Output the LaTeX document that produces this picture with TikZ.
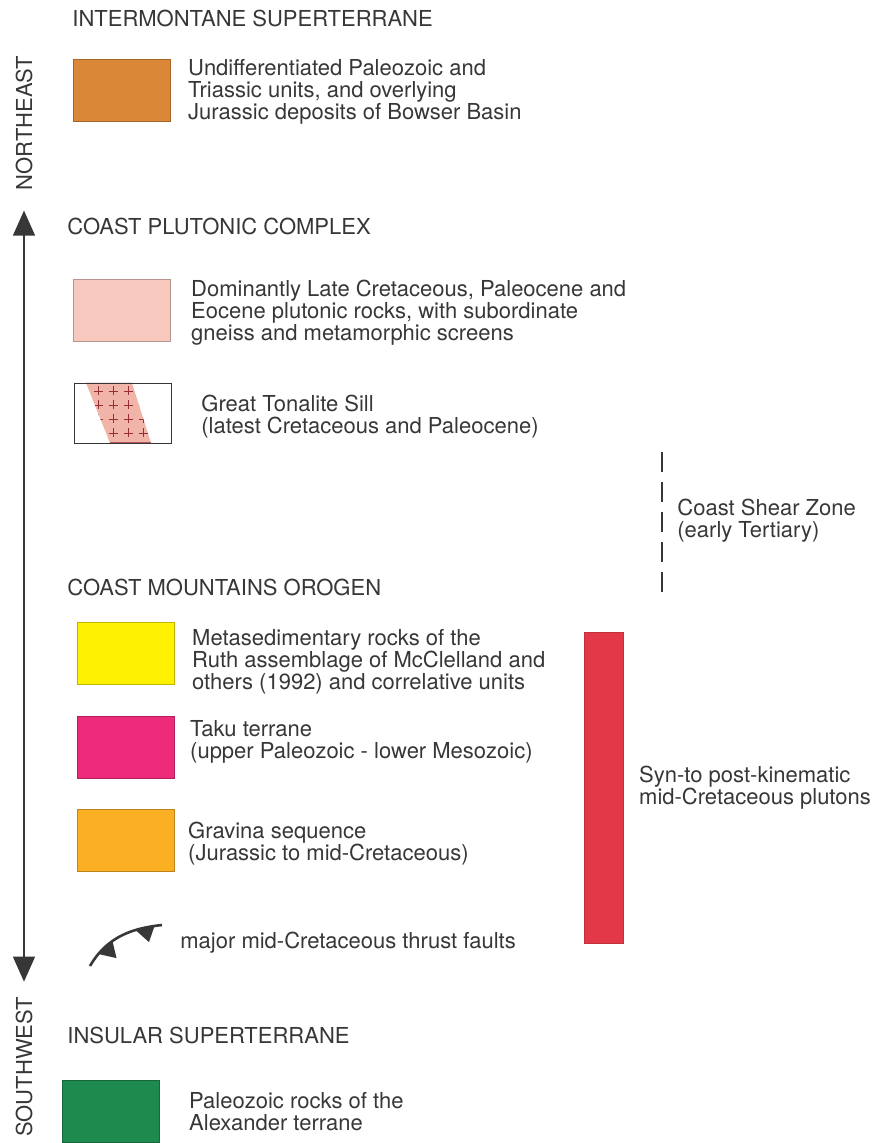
\documentclass[tikz,border=0pt]{standalone}
\usepackage{fontspec}
\setmainfont{TeX Gyre Heros}
\usepackage{xcolor}
\usetikzlibrary{arrows.meta, positioning, decorations.markings}

\definecolor{ink}{RGB}{55,55,55}
\definecolor{bowser}{RGB}{218,135,55}
\definecolor{plutonic}{RGB}{246,200,190}
\definecolor{sillpink}{RGB}{240,180,168}
\definecolor{sillcross}{RGB}{150,45,55}
\definecolor{ruth}{RGB}{255,242,0}
\definecolor{taku}{RGB}{238,42,123}
\definecolor{gravina}{RGB}{251,176,36}
\definecolor{plutons}{RGB}{226,56,72}
\definecolor{alexander}{RGB}{30,138,78}

\begin{document}
\begin{tikzpicture}[x=0.5pt, y=-0.5pt,
    every node/.style={font=\fontsize{11}{11}\selectfont, text=ink},
    title/.style={anchor=base west, inner sep=0},
    legtext/.style={align=left, inner sep=0},
    unitbox/.style={draw=#1!75!black, fill=#1, line width=0.4pt,
        minimum width=48.5pt, minimum height=31pt, anchor=north west, inner sep=0},
    dirlabel/.style={rotate=90, inner sep=0},
    dirarrow/.style={draw=ink, line width=0.7pt,
        {Triangle[length=12.5pt, width=11pt]}-{Triangle[length=12.5pt, width=11pt]}},
    thrust/.style={draw=ink, line width=1.3pt, postaction={decorate},
        decoration={markings,
            mark=at position 0.28 with {\fill[ink] (-5pt,0) -- (5pt,0) -- (0.5pt,-8pt) -- cycle;},
            mark=at position 0.8 with {\fill[ink] (-5pt,0) -- (5pt,0) -- (0.5pt,-7.5pt) -- cycle;}}}]

    \useasboundingbox (0,0) rectangle (880,1143);

    % direction arrow
    \node[dirlabel] (northeast) at (24,123) {NORTHEAST};
    \node[dirlabel] (southwest) at (24,1067) {SOUTHWEST};
    \draw[dirarrow] ([yshift=-10pt]northeast.west) -- ([yshift=7.5pt]southwest.east);

    % Intermontane superterrane
    \node[title] (intermontane) at (72,27) {INTERMONTANE SUPERTERRANE};
    \node[unitbox=bowser] (bowser) at (73,59) {};
    \node[legtext, right=8.5pt of bowser, yshift=-0.75pt] (bowsertext) {Undifferentiated Paleozoic and\\
        Triassic units, and overlying\\
        Jurassic deposits of Bowser Basin};

    % Coast plutonic complex
    \node[title] (plutoniccx) at (67,235) {COAST PLUTONIC COMPLEX};
    \node[unitbox=plutonic] (plutonic) at (73,279) {};
    \node[legtext, right=10pt of plutonic, yshift=-1pt] (plutonictext) {Dominantly Late Cretaceous, Paleocene and\\
        Eocene plutonic rocks, with subordinate\\
        gneiss and metamorphic screens};

    \begin{scope}
        \clip (86,383) -- (132,383) -- (151,443) -- (110,443) -- cycle;
        \fill[sillpink] (70,380) rectangle (175,446);
        \foreach \px in {98,113,...,155}
            \foreach \py in {391,405,...,440}
                \draw[sillcross, line width=0.45pt] (\px-4.5,\py) -- (\px+4.5,\py) (\px,\py-4.5) -- (\px,\py+4.5);
        \draw[sillcross!70!sillpink, line width=1pt] (86,383) -- (132,383) (110,443) -- (151,443);
    \end{scope}
    \node[draw=ink, line width=0.5pt, minimum width=48.5pt, minimum height=30pt,
        anchor=north west, inner sep=0] (sill) at (74,383) {};
    \node[legtext, right=14.5pt of sill, yshift=-1.5pt] (silltext) {Great Tonalite Sill\\
        (latest Cretaceous and Paleocene)};

    % Coast shear zone
    \coordinate (sheartop) at (662,452);
    \coordinate (shearbot) at (662,593);
    \draw[ink, line width=1.2pt, dash pattern=on 10pt off 5pt] (sheartop) -- (shearbot);
    \node[legtext, anchor=west] (sheartext) at (677,521) {Coast Shear Zone\\
        (early Tertiary)};

    % Coast Mountains orogen
    \node[title] (orogen) at (67,595) {COAST MOUNTAINS OROGEN};
    \node[unitbox=ruth] (ruth) at (77,622) {};
    \node[legtext, right=8.5pt of ruth, yshift=-4pt] (ruthtext) {Metasedimentary rocks of the\\
        Ruth assemblage of McClelland and\\
        others (1992) and correlative units};
    \node[unitbox=taku] (taku) at (77,716) {};
    \node[legtext, right=7.5pt of taku, yshift=2.75pt] (takutext) {Taku terrane\\
        (upper Paleozoic - lower Mesozoic)};
    \node[unitbox=gravina] (gravina) at (77,809) {};
    \node[legtext, right=6.5pt of gravina, yshift=-1.75pt] (gravinatext) {Gravina sequence\\
        (Jurassic to mid-Cretaceous)};

    \node[draw=plutons!85!black, fill=plutons, line width=0.4pt, minimum width=19.5pt,
        minimum height=155.5pt, anchor=north west, inner sep=0] (plutonbar) at (584,632) {};
    \node[legtext, right=7.5pt of plutonbar] (plutontext) {Syn-to post-kinematic\\
        mid-Cretaceous plutons};

    % thrust fault symbol
    \coordinate (thrustA) at (90,966);
    \coordinate (thrustB) at (162,925);
    \draw[thrust] (thrustA) .. controls (108,935) and (135,928) .. (thrustB);
    \node[title] (thrusttext) at (180,948) {major mid-Cretaceous thrust faults};

    % Insular superterrane
    \node[title] (insular) at (67,1043) {INSULAR SUPERTERRANE};
    \node[unitbox=alexander] (alexander) at (62,1080) {};
    \node[legtext, right=14.5pt of alexander] (alexandertext) {Paleozoic rocks of the\\
        Alexander terrane};

\end{tikzpicture}
\end{document}
